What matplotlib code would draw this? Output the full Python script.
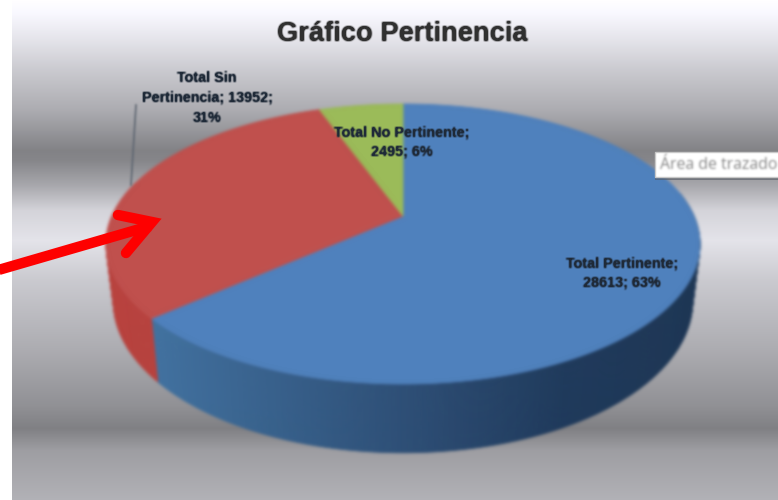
import numpy as np
import matplotlib
matplotlib.use('Agg')
from matplotlib import pyplot as plt
from matplotlib.collections import PolyCollection
from matplotlib.colors import to_rgb

# chart data
names = ['Total Pertinente', 'Total Sin Pertinencia', 'Total No Pertinente']
values = [28613, 13952, 2495]
top_colors = ['#4f81bd', '#c0504d', '#9bbb59']
label_texts = ['Total Pertinente;\n28613; 63%', 'Total Sin\nPertinencia; 13952;\n31%', 'Total No Pertinente;\n2495; 6%']
label_x = [622, 207, 402]
label_y = [273, 98, 142]

# background bands
bg_y = [0, 14, 40, 70, 110, 150, 160, 185, 210, 240, 280, 350, 405, 428, 450, 500]
bg_grey = [255, 248, 228, 202, 172, 130, 134, 168, 212, 228, 202, 172, 145, 128, 158, 178]

# pie geometry in pixels
cx, cy = 403, 216
ax_a, ax_b, k = 291, 134.4, 0.2
depth = 55
inset = 0.975


def smooth(image, weights):
    pad = 3
    im = np.pad(image, ((pad, pad), (pad, pad), (0, 0))).astype(float)
    # blur premultiplied colours, otherwise edges pick up a pale halo
    im[..., :3] *= im[..., 3:]
    kernel = np.array(weights, dtype=float)
    kernel /= kernel.sum()
    for axis in (0, 1):
        im = np.apply_along_axis(lambda m: np.convolve(m, kernel, mode='same'), axis, im)
    im[..., :3] /= np.maximum(im[..., 3:], 1e-4)
    return np.clip(im, 0, 1), pad


def blur(image, dpi):
    im, pad = smooth(image, [1, 3, 5, 3, 1])
    return im, -pad, -pad


def blur_text(image, dpi):
    # soft like the reference, but the glyphs keep their weight
    im, pad = smooth(image, [1, 2, 1])
    im[..., 3] = np.clip(im[..., 3] * 1.5, 0, 1)
    return im, -pad, -pad


def project(theta):
    # theta clockwise from the top of the pie, radians
    u, v = np.sin(theta), np.cos(theta)
    d = 1 + k * v
    return cx + ax_a * u / d, cy - ax_b * v / d, depth / d


fig = plt.figure(figsize=(7.78, 5), dpi=100)
ax = fig.add_axes([0, 0, 1, 1])
ax.set_xlim(0, 778)
ax.set_ylim(500, 0)
ax.axis('off')

rows = np.interp(np.arange(500), bg_y, bg_grey) / 255
bg = np.stack([rows, rows * 0.995 + 0.003, np.minimum(rows * 1.02 + 0.005, 1)], axis=1)[:, None, :]
ax.imshow(bg, extent=[12, 778, 500, 0], aspect='auto')

fractions = np.array(values) / sum(values)
edges = np.concatenate([[0], np.cumsum(fractions)]) * 2 * np.pi

# side wall and top face go in one collection, so the blur leaves no seams
polys = []
cols = []
blue_dark = ['#41719f', '#2e5078', '#1f3a5c', '#1d3654']
for i in range(2):
    lo = max(edges[i], np.radians(80))
    hi = min(edges[i + 1], np.radians(285))
    th = np.linspace(lo, hi, int(np.degrees(hi - lo) * 2) + 2)
    x, y, d = project(th)
    xb = cx + (x - cx) * inset
    for j in range(len(th) - 1):
        polys.append([(x[j], y[j]), (x[j + 1], y[j + 1]),
                      (xb[j + 1], y[j + 1] + d[j + 1]), (xb[j], y[j] + d[j])])
        if i == 0:
            c = [np.interp(x[j], [160, 400, 570, 700], [to_rgb(b)[n] for b in blue_dark]) for n in range(3)]
        else:
            c = to_rgb('#b8423e')
        cols.append(c)

for i in range(3):
    th = np.linspace(edges[i], edges[i + 1], 200)
    x, y, d = project(th)
    polys.append(np.column_stack([np.r_[cx, x], np.r_[cy, y]]))
    cols.append(to_rgb(top_colors[i]))

pie = PolyCollection(polys, facecolors=cols, edgecolors=cols, linewidths=0.6)
pie.set_agg_filter(blur)
ax.add_collection(pie)

# leader line of the red slice
leader = ax.plot([136, 131], [105, 185], color='#5f6772', lw=1.2)[0]
leader.set_agg_filter(blur)

# labels
for i in range(3):
    t = ax.text(label_x[i], label_y[i], label_texts[i], ha='center', va='center',
                family='Liberation Sans', fontweight='bold', fontsize=10.4, color='#1f2a38', linespacing=1.5)
    t.set_agg_filter(blur_text)

title = ax.text(402, 34, 'Gráfico Pertinencia', ha='center', va='center', family='Liberation Sans',
                fontweight='bold', fontsize=19.6, color='#303030')
title.set_agg_filter(blur_text)

# red arrow pasted over the chart
ax.plot([-5, 150], [271, 226], color='#fe0000', lw=7.5, solid_capstyle='butt')
ax.plot([118, 152, 126], [215, 222, 253], color='#fe0000', lw=7.5,
        solid_capstyle='round', solid_joinstyle='miter')

# tooltip
ax.fill([655, 780, 780, 655], [154, 154, 180, 180], color='#555a63', alpha=0.6, lw=0)
ax.fill([655, 780, 780, 655], [152, 152, 177, 177], facecolor='white', edgecolor='#c8c8c8', lw=1)
tip = ax.text(660, 165, 'Área de trazado', ha='left', va='center', family='Open Sans',
              fontsize=11.4, color='#8a8a8a', clip_on=True)
tip.set_agg_filter(blur)

fig.savefig('out.png', dpi=100)
